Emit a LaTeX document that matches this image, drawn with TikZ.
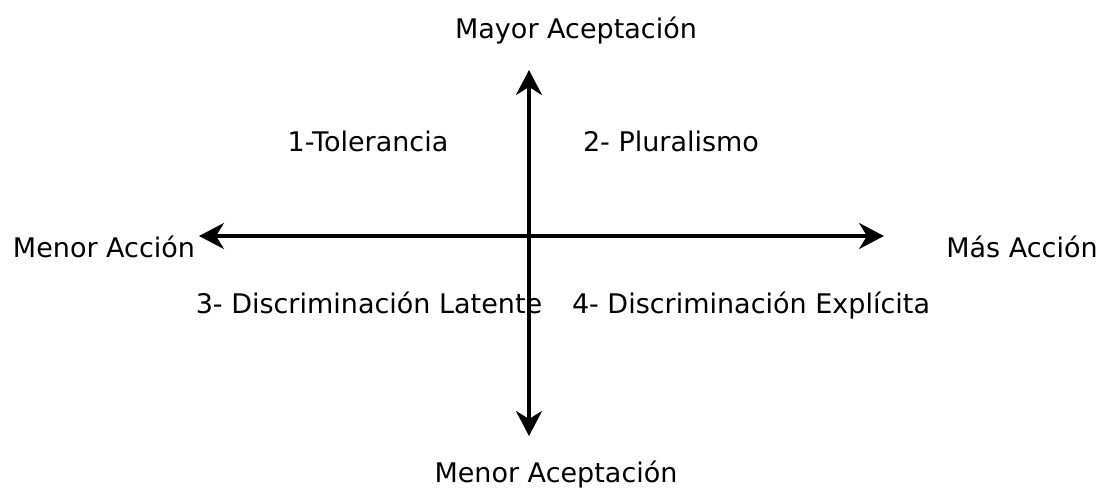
\documentclass[tikz,border=0pt]{standalone}
\usepackage{fontspec}
\setmainfont{DejaVu Sans}
\usetikzlibrary{arrows.meta}

\begin{document}
\begin{tikzpicture}[
    x=1pt, y=-1pt,
    axis/.style={{Stealth[length=25pt,width=26pt,inset=8pt]}-{Stealth[length=25pt,width=26pt,inset=8pt]}, line width=3.5pt},
    every node/.style={font=\fontsize{27}{31}\selectfont, inner sep=0pt, anchor=base}]

    \useasboundingbox (0,0) rectangle (1100,492);

    % ejes
    \coordinate (top) at (529,70);
    \coordinate (bottom) at (529,436);
    \coordinate (left) at (199,236);
    \coordinate (right) at (884,236);

    \draw[axis] (left) -- (right);
    \draw[axis] (top) -- (bottom);

    % extremos
    \node (mayor) at (576,39) {Mayor Aceptación};
    \node (menor) at (556,482) {Menor Aceptación};
    \node (menosaccion) at (104,257) {Menor Acción};
    \node (masaccion) at (1022,257) {Más Acción};

    % cuadrantes
    \node (q1) at (368,152) {1-Tolerancia};
    \node (q2) at (671,152) {2- Pluralismo};
    \node (q3) at (369,313) {3- Discriminación Latente};
    \node (q4) at (751,313) {4- Discriminación Explícita};

\end{tikzpicture}
\end{document}
